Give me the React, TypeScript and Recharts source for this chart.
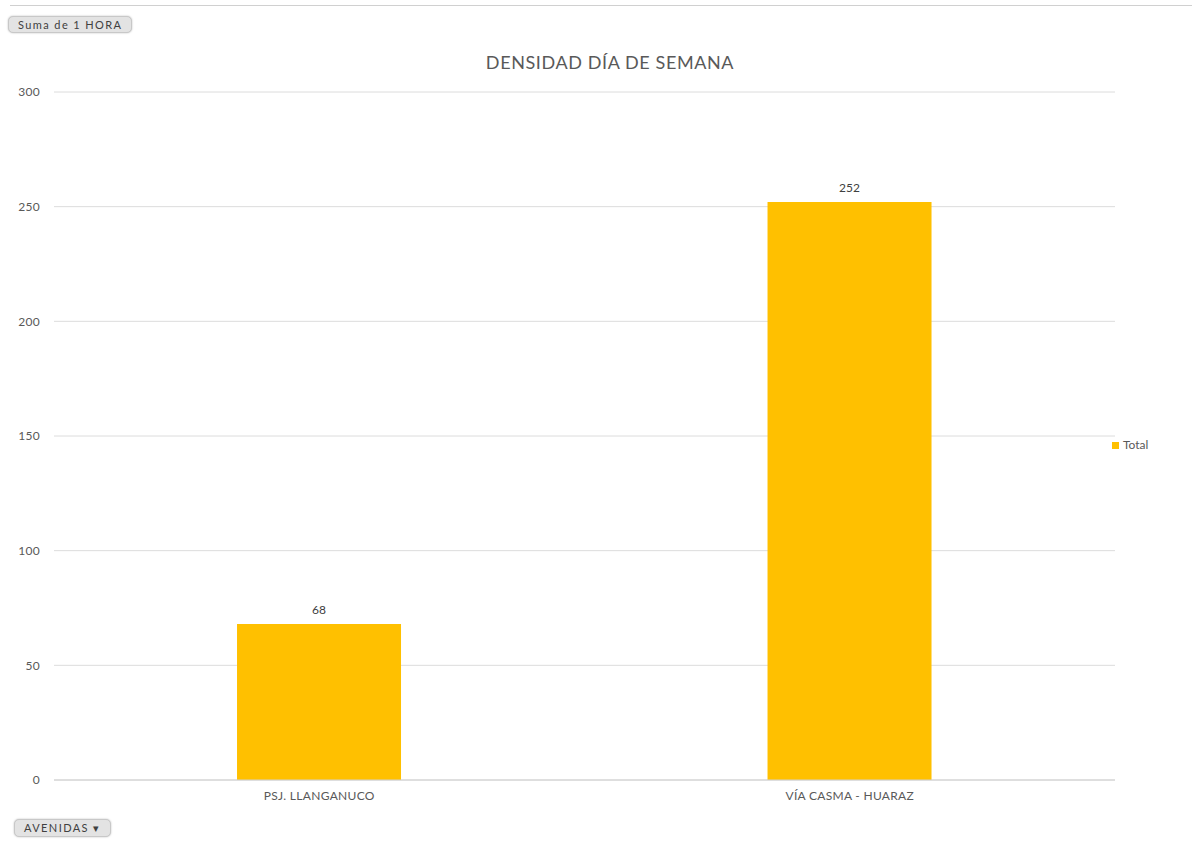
import React from 'react';
import { Bar, BarChart, CartesianGrid, LabelList, Legend, XAxis, YAxis } from 'recharts';

const avenidas = ['PSJ. LLANGANUCO', 'VÍA CASMA - HUARAZ'];
const totales = [68, 252];
const yTicks = [0, 50, 100, 150, 200, 250, 300];

const data = avenidas.map((avenida, i) => ({ avenida, Total: totales[i] }));

const FONT = 'Lato, "Open Sans", sans-serif';

const pill: React.CSSProperties = {
  position: 'absolute',
  background: '#e3e3e3',
  border: '1px solid #c8c8c8',
  borderRadius: 5,
  fontSize: 11,
  letterSpacing: 1.4,
  color: '#404040',
  padding: '1px 9px',
  fontFamily: FONT,
  boxShadow: '0 0 2px #bbb',
};

const tickStyle = { fontSize: 12, fill: '#595959', fontFamily: FONT, letterSpacing: 0.3 };

const App: React.FC = () => {
  return (
    <div style={{ position: 'absolute', left: 0, top: 0, width: 1192, height: 848, background: '#fff', fontFamily: FONT }}>
      <div style={{ position: 'absolute', left: 10, right: 0, top: 5, height: 1, background: '#d0d0d0' }} />
      <div style={{ ...pill, left: 8, top: 16 }}>Suma de 1 HORA</div>
      <div
        style={{
          position: 'absolute',
          left: 14,
          width: 1192,
          top: 51,
          textAlign: 'center',
          fontSize: 18,
          letterSpacing: 0.6,
          color: '#595959',
        }}
      >
        DENSIDAD DÍA DE SEMANA
      </div>
      <BarChart
        width={1192}
        height={848}
        data={data}
        margin={{ top: 92, right: 7, bottom: 38, left: 0 }}
        barCategoryGap="34.5%"
      >
        <CartesianGrid vertical={false} stroke="#dcdcdc" />
        <XAxis
          dataKey="avenida"
          axisLine={{ stroke: '#d0d0d0' }}
          tickLine={false}
          tickSize={0}
          tickMargin={11}
          height={30}
          tick={tickStyle}
        />
        <YAxis
          domain={[0, 300]}
          ticks={yTicks}
          axisLine={false}
          tickLine={false}
          tickSize={0}
          tickMargin={14}
          width={54}
          tick={tickStyle}
        />
        <Legend
          layout="vertical"
          align="right"
          verticalAlign="middle"
          iconType="square"
          iconSize={7}
          wrapperStyle={{ left: 1112, top: 437, width: 70, fontSize: 12, color: '#595959' }}
          formatter={(v) => <span style={{ color: '#595959' }}>{v}</span>}
        />
        <Bar dataKey="Total" fill="#FFC000" isAnimationActive={false}>
          <LabelList dataKey="Total" position="top" offset={10} style={{ fontSize: 12, fill: '#404040', fontFamily: FONT }} />
        </Bar>
      </BarChart>
      <div style={{ ...pill, left: 14, top: 819 }}>AVENIDAS ▾</div>
    </div>
  );
};

export default App;
